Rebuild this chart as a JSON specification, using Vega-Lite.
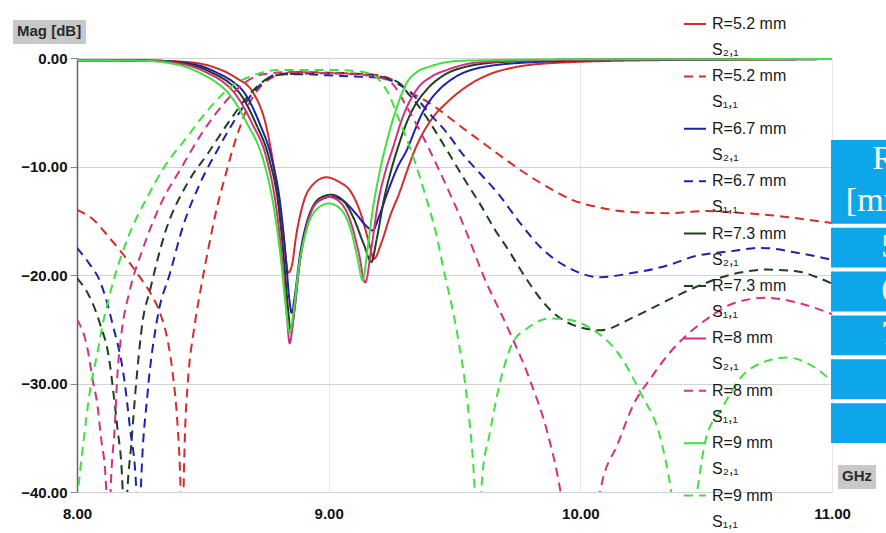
{
"$schema": "https://vega.github.io/schema/vega-lite/v6.json",
"width": 755, "height": 434,
"autosize": {"type": "none"},
"padding": {"left": 77, "top": 58, "right": 54, "bottom": 41},
"background": "white",
"config": {"view": {"stroke": null}, "font": "Liberation Sans"},
"datasets": {
"table": [{"cell":"R [mm]","span":2},{"cell":"5.2","span":1},{"cell":"6.7","span":1},{"cell":"7.3","span":1},{"cell":"8","span":1},{"cell":"9","span":1}],
"curves": [
{"curve":"R=5.2 mm|S₂,₁","freq":8.0,"mag":-0.2},{"curve":"R=5.2 mm|S₂,₁","freq":8.3,"mag":-0.25},{"curve":"R=5.2 mm|S₂,₁","freq":8.45,"mag":-0.4},{"curve":"R=5.2 mm|S₂,₁","freq":8.55,"mag":-0.9},{"curve":"R=5.2 mm|S₂,₁","freq":8.63,"mag":-1.8},{"curve":"R=5.2 mm|S₂,₁","freq":8.7,"mag":-3.2},{"curve":"R=5.2 mm|S₂,₁","freq":8.755,"mag":-6.6},{"curve":"R=5.2 mm|S₂,₁","freq":8.79,"mag":-11.2},{"curve":"R=5.2 mm|S₂,₁","freq":8.817,"mag":-15.6},{"curve":"R=5.2 mm|S₂,₁","freq":8.84,"mag":-19.8},{"curve":"R=5.2 mm|S₂,₁","freq":8.855,"mag":-19},{"curve":"R=5.2 mm|S₂,₁","freq":8.87,"mag":-16.5},{"curve":"R=5.2 mm|S₂,₁","freq":8.9,"mag":-13.3},{"curve":"R=5.2 mm|S₂,₁","freq":8.94,"mag":-11.6},{"curve":"R=5.2 mm|S₂,₁","freq":8.99,"mag":-11},{"curve":"R=5.2 mm|S₂,₁","freq":9.04,"mag":-11.4},{"curve":"R=5.2 mm|S₂,₁","freq":9.09,"mag":-12.4},{"curve":"R=5.2 mm|S₂,₁","freq":9.13,"mag":-14.5},{"curve":"R=5.2 mm|S₂,₁","freq":9.16,"mag":-17},{"curve":"R=5.2 mm|S₂,₁","freq":9.18,"mag":-18.5},{"curve":"R=5.2 mm|S₂,₁","freq":9.21,"mag":-17},{"curve":"R=5.2 mm|S₂,₁","freq":9.245,"mag":-14.5},{"curve":"R=5.2 mm|S₂,₁","freq":9.28,"mag":-12.5},{"curve":"R=5.2 mm|S₂,₁","freq":9.31,"mag":-10.5},{"curve":"R=5.2 mm|S₂,₁","freq":9.34,"mag":-8.6},{"curve":"R=5.2 mm|S₂,₁","freq":9.375,"mag":-6.9},{"curve":"R=5.2 mm|S₂,₁","freq":9.42,"mag":-5.3},{"curve":"R=5.2 mm|S₂,₁","freq":9.47,"mag":-4.1},{"curve":"R=5.2 mm|S₂,₁","freq":9.52,"mag":-3.1},{"curve":"R=5.2 mm|S₂,₁","freq":9.57,"mag":-2.3},{"curve":"R=5.2 mm|S₂,₁","freq":9.65,"mag":-1.4},{"curve":"R=5.2 mm|S₂,₁","freq":9.73,"mag":-0.9},{"curve":"R=5.2 mm|S₂,₁","freq":9.9,"mag":-0.45},{"curve":"R=5.2 mm|S₂,₁","freq":10.3,"mag":-0.2},{"curve":"R=5.2 mm|S₂,₁","freq":11.0,"mag":-0.1},
{"curve":"R=5.2 mm|S₁,₁","freq":8.0,"mag":-14.0},{"curve":"R=5.2 mm|S₁,₁","freq":8.06,"mag":-14.8},{"curve":"R=5.2 mm|S₁,₁","freq":8.13,"mag":-16.6},{"curve":"R=5.2 mm|S₁,₁","freq":8.2,"mag":-18.6},{"curve":"R=5.2 mm|S₁,₁","freq":8.25,"mag":-20.2},{"curve":"R=5.2 mm|S₁,₁","freq":8.3,"mag":-22},{"curve":"R=5.2 mm|S₁,₁","freq":8.33,"mag":-23.5},{"curve":"R=5.2 mm|S₁,₁","freq":8.36,"mag":-26},{"curve":"R=5.2 mm|S₁,₁","freq":8.38,"mag":-29},{"curve":"R=5.2 mm|S₁,₁","freq":8.4,"mag":-34},{"curve":"R=5.2 mm|S₁,₁","freq":8.41,"mag":-38.5},{"curve":"R=5.2 mm|S₁,₁","freq":8.418,"mag":-46},{"curve":"R=5.2 mm|S₁,₁","freq":8.425,"mag":-38},{"curve":"R=5.2 mm|S₁,₁","freq":8.43,"mag":-34},{"curve":"R=5.2 mm|S₁,₁","freq":8.44,"mag":-30},{"curve":"R=5.2 mm|S₁,₁","freq":8.465,"mag":-25},{"curve":"R=5.2 mm|S₁,₁","freq":8.49,"mag":-21.5},{"curve":"R=5.2 mm|S₁,₁","freq":8.52,"mag":-17.8},{"curve":"R=5.2 mm|S₁,₁","freq":8.557,"mag":-13.7},{"curve":"R=5.2 mm|S₁,₁","freq":8.59,"mag":-10.8},{"curve":"R=5.2 mm|S₁,₁","freq":8.62,"mag":-8.3},{"curve":"R=5.2 mm|S₁,₁","freq":8.65,"mag":-6.2},{"curve":"R=5.2 mm|S₁,₁","freq":8.68,"mag":-4.4},{"curve":"R=5.2 mm|S₁,₁","freq":8.72,"mag":-2.9},{"curve":"R=5.2 mm|S₁,₁","freq":8.76,"mag":-2.0},{"curve":"R=5.2 mm|S₁,₁","freq":8.81,"mag":-1.5},{"curve":"R=5.2 mm|S₁,₁","freq":8.87,"mag":-1.3},{"curve":"R=5.2 mm|S₁,₁","freq":9.0,"mag":-1.35},{"curve":"R=5.2 mm|S₁,₁","freq":9.1,"mag":-1.45},{"curve":"R=5.2 mm|S₁,₁","freq":9.2,"mag":-1.6},{"curve":"R=5.2 mm|S₁,₁","freq":9.27,"mag":-2.2},{"curve":"R=5.2 mm|S₁,₁","freq":9.33,"mag":-3.2},{"curve":"R=5.2 mm|S₁,₁","freq":9.39,"mag":-4.0},{"curve":"R=5.2 mm|S₁,₁","freq":9.44,"mag":-4.8},{"curve":"R=5.2 mm|S₁,₁","freq":9.53,"mag":-6.4},{"curve":"R=5.2 mm|S₁,₁","freq":9.6,"mag":-7.6},{"curve":"R=5.2 mm|S₁,₁","freq":9.67,"mag":-8.8},{"curve":"R=5.2 mm|S₁,₁","freq":9.76,"mag":-10.3},{"curve":"R=5.2 mm|S₁,₁","freq":9.87,"mag":-11.9},{"curve":"R=5.2 mm|S₁,₁","freq":9.97,"mag":-13.1},{"curve":"R=5.2 mm|S₁,₁","freq":10.08,"mag":-13.8},{"curve":"R=5.2 mm|S₁,₁","freq":10.2,"mag":-14.2},{"curve":"R=5.2 mm|S₁,₁","freq":10.35,"mag":-14.3},{"curve":"R=5.2 mm|S₁,₁","freq":10.5,"mag":-14.1},{"curve":"R=5.2 mm|S₁,₁","freq":10.65,"mag":-14.3},{"curve":"R=5.2 mm|S₁,₁","freq":10.8,"mag":-14.6},{"curve":"R=5.2 mm|S₁,₁","freq":10.9,"mag":-14.9},{"curve":"R=5.2 mm|S₁,₁","freq":11.0,"mag":-15.2},
{"curve":"R=6.7 mm|S₂,₁","freq":8.0,"mag":-0.2},{"curve":"R=6.7 mm|S₂,₁","freq":8.32,"mag":-0.25},{"curve":"R=6.7 mm|S₂,₁","freq":8.43,"mag":-0.45},{"curve":"R=6.7 mm|S₂,₁","freq":8.5,"mag":-0.8},{"curve":"R=6.7 mm|S₂,₁","freq":8.56,"mag":-1.4},{"curve":"R=6.7 mm|S₂,₁","freq":8.62,"mag":-2.2},{"curve":"R=6.7 mm|S₂,₁","freq":8.665,"mag":-3.2},{"curve":"R=6.7 mm|S₂,₁","freq":8.725,"mag":-6},{"curve":"R=6.7 mm|S₂,₁","freq":8.775,"mag":-9.4},{"curve":"R=6.7 mm|S₂,₁","freq":8.808,"mag":-13.5},{"curve":"R=6.7 mm|S₂,₁","freq":8.83,"mag":-18.5},{"curve":"R=6.7 mm|S₂,₁","freq":8.845,"mag":-22.5},{"curve":"R=6.7 mm|S₂,₁","freq":8.853,"mag":-23.5},{"curve":"R=6.7 mm|S₂,₁","freq":8.865,"mag":-22},{"curve":"R=6.7 mm|S₂,₁","freq":8.885,"mag":-18.3},{"curve":"R=6.7 mm|S₂,₁","freq":8.915,"mag":-15},{"curve":"R=6.7 mm|S₂,₁","freq":8.96,"mag":-13.2},{"curve":"R=6.7 mm|S₂,₁","freq":9.01,"mag":-12.8},{"curve":"R=6.7 mm|S₂,₁","freq":9.06,"mag":-13.2},{"curve":"R=6.7 mm|S₂,₁","freq":9.11,"mag":-14.4},{"curve":"R=6.7 mm|S₂,₁","freq":9.15,"mag":-15.5},{"curve":"R=6.7 mm|S₂,₁","freq":9.175,"mag":-15.9},{"curve":"R=6.7 mm|S₂,₁","freq":9.2,"mag":-14.6},{"curve":"R=6.7 mm|S₂,₁","freq":9.24,"mag":-12},{"curve":"R=6.7 mm|S₂,₁","freq":9.275,"mag":-10},{"curve":"R=6.7 mm|S₂,₁","freq":9.31,"mag":-8.5},{"curve":"R=6.7 mm|S₂,₁","freq":9.34,"mag":-6.8},{"curve":"R=6.7 mm|S₂,₁","freq":9.365,"mag":-5.4},{"curve":"R=6.7 mm|S₂,₁","freq":9.4,"mag":-4},{"curve":"R=6.7 mm|S₂,₁","freq":9.44,"mag":-2.9},{"curve":"R=6.7 mm|S₂,₁","freq":9.5,"mag":-1.8},{"curve":"R=6.7 mm|S₂,₁","freq":9.6,"mag":-0.9},{"curve":"R=6.7 mm|S₂,₁","freq":9.8,"mag":-0.4},{"curve":"R=6.7 mm|S₂,₁","freq":10.1,"mag":-0.2},{"curve":"R=6.7 mm|S₂,₁","freq":11.0,"mag":-0.1},
{"curve":"R=6.7 mm|S₁,₁","freq":8.0,"mag":-17.5},{"curve":"R=6.7 mm|S₁,₁","freq":8.05,"mag":-19},{"curve":"R=6.7 mm|S₁,₁","freq":8.09,"mag":-20.5},{"curve":"R=6.7 mm|S₁,₁","freq":8.14,"mag":-24.4},{"curve":"R=6.7 mm|S₁,₁","freq":8.19,"mag":-30},{"curve":"R=6.7 mm|S₁,₁","freq":8.21,"mag":-34},{"curve":"R=6.7 mm|S₁,₁","freq":8.235,"mag":-39.5},{"curve":"R=6.7 mm|S₁,₁","freq":8.245,"mag":-46},{"curve":"R=6.7 mm|S₁,₁","freq":8.255,"mag":-39},{"curve":"R=6.7 mm|S₁,₁","freq":8.28,"mag":-31},{"curve":"R=6.7 mm|S₁,₁","freq":8.32,"mag":-23.9},{"curve":"R=6.7 mm|S₁,₁","freq":8.37,"mag":-19.8},{"curve":"R=6.7 mm|S₁,₁","freq":8.42,"mag":-15.6},{"curve":"R=6.7 mm|S₁,₁","freq":8.49,"mag":-11.5},{"curve":"R=6.7 mm|S₁,₁","freq":8.56,"mag":-8.4},{"curve":"R=6.7 mm|S₁,₁","freq":8.63,"mag":-5.6},{"curve":"R=6.7 mm|S₁,₁","freq":8.71,"mag":-2.9},{"curve":"R=6.7 mm|S₁,₁","freq":8.8,"mag":-1.5},{"curve":"R=6.7 mm|S₁,₁","freq":8.9,"mag":-1.5},{"curve":"R=6.7 mm|S₁,₁","freq":9.0,"mag":-1.6},{"curve":"R=6.7 mm|S₁,₁","freq":9.1,"mag":-1.7},{"curve":"R=6.7 mm|S₁,₁","freq":9.2,"mag":-1.8},{"curve":"R=6.7 mm|S₁,₁","freq":9.26,"mag":-2.2},{"curve":"R=6.7 mm|S₁,₁","freq":9.31,"mag":-2.9},{"curve":"R=6.7 mm|S₁,₁","freq":9.36,"mag":-4},{"curve":"R=6.7 mm|S₁,₁","freq":9.4,"mag":-5.1},{"curve":"R=6.7 mm|S₁,₁","freq":9.47,"mag":-6.9},{"curve":"R=6.7 mm|S₁,₁","freq":9.53,"mag":-8.8},{"curve":"R=6.7 mm|S₁,₁","freq":9.6,"mag":-10.6},{"curve":"R=6.7 mm|S₁,₁","freq":9.67,"mag":-12.4},{"curve":"R=6.7 mm|S₁,₁","freq":9.76,"mag":-15.2},{"curve":"R=6.7 mm|S₁,₁","freq":9.84,"mag":-17.4},{"curve":"R=6.7 mm|S₁,₁","freq":9.95,"mag":-19.3},{"curve":"R=6.7 mm|S₁,₁","freq":10.08,"mag":-20.2},{"curve":"R=6.7 mm|S₁,₁","freq":10.21,"mag":-19.8},{"curve":"R=6.7 mm|S₁,₁","freq":10.35,"mag":-19.1},{"curve":"R=6.7 mm|S₁,₁","freq":10.45,"mag":-18.3},{"curve":"R=6.7 mm|S₁,₁","freq":10.6,"mag":-17.8},{"curve":"R=6.7 mm|S₁,₁","freq":10.72,"mag":-17.5},{"curve":"R=6.7 mm|S₁,₁","freq":10.85,"mag":-17.9},{"curve":"R=6.7 mm|S₁,₁","freq":11.0,"mag":-18.6},
{"curve":"R=7.3 mm|S₂,₁","freq":8.0,"mag":-0.2},{"curve":"R=7.3 mm|S₂,₁","freq":8.3,"mag":-0.25},{"curve":"R=7.3 mm|S₂,₁","freq":8.41,"mag":-0.45},{"curve":"R=7.3 mm|S₂,₁","freq":8.48,"mag":-0.8},{"curve":"R=7.3 mm|S₂,₁","freq":8.54,"mag":-1.4},{"curve":"R=7.3 mm|S₂,₁","freq":8.6,"mag":-2.2},{"curve":"R=7.3 mm|S₂,₁","freq":8.645,"mag":-3.2},{"curve":"R=7.3 mm|S₂,₁","freq":8.71,"mag":-6},{"curve":"R=7.3 mm|S₂,₁","freq":8.765,"mag":-9.4},{"curve":"R=7.3 mm|S₂,₁","freq":8.8,"mag":-13.5},{"curve":"R=7.3 mm|S₂,₁","freq":8.822,"mag":-18.5},{"curve":"R=7.3 mm|S₂,₁","freq":8.838,"mag":-23},{"curve":"R=7.3 mm|S₂,₁","freq":8.85,"mag":-25.3},{"curve":"R=7.3 mm|S₂,₁","freq":8.865,"mag":-23},{"curve":"R=7.3 mm|S₂,₁","freq":8.885,"mag":-18.8},{"curve":"R=7.3 mm|S₂,₁","freq":8.915,"mag":-15.2},{"curve":"R=7.3 mm|S₂,₁","freq":8.96,"mag":-13},{"curve":"R=7.3 mm|S₂,₁","freq":9.01,"mag":-12.6},{"curve":"R=7.3 mm|S₂,₁","freq":9.06,"mag":-13.2},{"curve":"R=7.3 mm|S₂,₁","freq":9.1,"mag":-14.8},{"curve":"R=7.3 mm|S₂,₁","freq":9.14,"mag":-17.2},{"curve":"R=7.3 mm|S₂,₁","freq":9.17,"mag":-18.8},{"curve":"R=7.3 mm|S₂,₁","freq":9.19,"mag":-16.8},{"curve":"R=7.3 mm|S₂,₁","freq":9.22,"mag":-13},{"curve":"R=7.3 mm|S₂,₁","freq":9.25,"mag":-10.2},{"curve":"R=7.3 mm|S₂,₁","freq":9.28,"mag":-7.9},{"curve":"R=7.3 mm|S₂,₁","freq":9.32,"mag":-5.4},{"curve":"R=7.3 mm|S₂,₁","freq":9.39,"mag":-2.9},{"curve":"R=7.3 mm|S₂,₁","freq":9.45,"mag":-1.7},{"curve":"R=7.3 mm|S₂,₁","freq":9.53,"mag":-0.9},{"curve":"R=7.3 mm|S₂,₁","freq":9.7,"mag":-0.35},{"curve":"R=7.3 mm|S₂,₁","freq":10.0,"mag":-0.15},{"curve":"R=7.3 mm|S₂,₁","freq":11.0,"mag":-0.1},
{"curve":"R=7.3 mm|S₁,₁","freq":8.0,"mag":-20.3},{"curve":"R=7.3 mm|S₁,₁","freq":8.05,"mag":-22},{"curve":"R=7.3 mm|S₁,₁","freq":8.09,"mag":-24.4},{"curve":"R=7.3 mm|S₁,₁","freq":8.13,"mag":-28.1},{"curve":"R=7.3 mm|S₁,₁","freq":8.145,"mag":-30.9},{"curve":"R=7.3 mm|S₁,₁","freq":8.16,"mag":-34},{"curve":"R=7.3 mm|S₁,₁","freq":8.18,"mag":-39},{"curve":"R=7.3 mm|S₁,₁","freq":8.19,"mag":-46},{"curve":"R=7.3 mm|S₁,₁","freq":8.2,"mag":-40},{"curve":"R=7.3 mm|S₁,₁","freq":8.215,"mag":-35.8},{"curve":"R=7.3 mm|S₁,₁","freq":8.235,"mag":-30},{"curve":"R=7.3 mm|S₁,₁","freq":8.26,"mag":-24.4},{"curve":"R=7.3 mm|S₁,₁","freq":8.29,"mag":-21.4},{"curve":"R=7.3 mm|S₁,₁","freq":8.35,"mag":-16.1},{"curve":"R=7.3 mm|S₁,₁","freq":8.44,"mag":-11.5},{"curve":"R=7.3 mm|S₁,₁","freq":8.52,"mag":-8.8},{"curve":"R=7.3 mm|S₁,₁","freq":8.6,"mag":-6},{"curve":"R=7.3 mm|S₁,₁","freq":8.68,"mag":-3.5},{"curve":"R=7.3 mm|S₁,₁","freq":8.75,"mag":-2},{"curve":"R=7.3 mm|S₁,₁","freq":8.82,"mag":-1.5},{"curve":"R=7.3 mm|S₁,₁","freq":9.0,"mag":-1.4},{"curve":"R=7.3 mm|S₁,₁","freq":9.15,"mag":-1.5},{"curve":"R=7.3 mm|S₁,₁","freq":9.22,"mag":-1.8},{"curve":"R=7.3 mm|S₁,₁","freq":9.28,"mag":-2.3},{"curve":"R=7.3 mm|S₁,₁","freq":9.32,"mag":-3.4},{"curve":"R=7.3 mm|S₁,₁","freq":9.36,"mag":-4.5},{"curve":"R=7.3 mm|S₁,₁","freq":9.42,"mag":-6.6},{"curve":"R=7.3 mm|S₁,₁","freq":9.47,"mag":-8.5},{"curve":"R=7.3 mm|S₁,₁","freq":9.54,"mag":-11.2},{"curve":"R=7.3 mm|S₁,₁","freq":9.6,"mag":-13.4},{"curve":"R=7.3 mm|S₁,₁","freq":9.66,"mag":-15.8},{"curve":"R=7.3 mm|S₁,₁","freq":9.72,"mag":-17.9},{"curve":"R=7.3 mm|S₁,₁","freq":9.77,"mag":-19.8},{"curve":"R=7.3 mm|S₁,₁","freq":9.88,"mag":-23.2},{"curve":"R=7.3 mm|S₁,₁","freq":9.97,"mag":-24.6},{"curve":"R=7.3 mm|S₁,₁","freq":10.08,"mag":-25.1},{"curve":"R=7.3 mm|S₁,₁","freq":10.21,"mag":-23.9},{"curve":"R=7.3 mm|S₁,₁","freq":10.35,"mag":-22.3},{"curve":"R=7.3 mm|S₁,₁","freq":10.45,"mag":-21.2},{"curve":"R=7.3 mm|S₁,₁","freq":10.61,"mag":-19.9},{"curve":"R=7.3 mm|S₁,₁","freq":10.74,"mag":-19.5},{"curve":"R=7.3 mm|S₁,₁","freq":10.87,"mag":-19.7},{"curve":"R=7.3 mm|S₁,₁","freq":10.95,"mag":-20.3},{"curve":"R=7.3 mm|S₁,₁","freq":11.0,"mag":-20.8},
{"curve":"R=8 mm|S₂,₁","freq":8.0,"mag":-0.2},{"curve":"R=8 mm|S₂,₁","freq":8.28,"mag":-0.25},{"curve":"R=8 mm|S₂,₁","freq":8.39,"mag":-0.45},{"curve":"R=8 mm|S₂,₁","freq":8.46,"mag":-0.8},{"curve":"R=8 mm|S₂,₁","freq":8.52,"mag":-1.4},{"curve":"R=8 mm|S₂,₁","freq":8.58,"mag":-2.2},{"curve":"R=8 mm|S₂,₁","freq":8.625,"mag":-3.2},{"curve":"R=8 mm|S₂,₁","freq":8.695,"mag":-6},{"curve":"R=8 mm|S₂,₁","freq":8.755,"mag":-9.4},{"curve":"R=8 mm|S₂,₁","freq":8.79,"mag":-13.5},{"curve":"R=8 mm|S₂,₁","freq":8.815,"mag":-18.5},{"curve":"R=8 mm|S₂,₁","freq":8.833,"mag":-23.5},{"curve":"R=8 mm|S₂,₁","freq":8.845,"mag":-26.3},{"curve":"R=8 mm|S₂,₁","freq":8.86,"mag":-24},{"curve":"R=8 mm|S₂,₁","freq":8.88,"mag":-19.8},{"curve":"R=8 mm|S₂,₁","freq":8.91,"mag":-15.8},{"curve":"R=8 mm|S₂,₁","freq":8.95,"mag":-13.4},{"curve":"R=8 mm|S₂,₁","freq":9.0,"mag":-12.8},{"curve":"R=8 mm|S₂,₁","freq":9.05,"mag":-13.4},{"curve":"R=8 mm|S₂,₁","freq":9.09,"mag":-15.3},{"curve":"R=8 mm|S₂,₁","freq":9.12,"mag":-18},{"curve":"R=8 mm|S₂,₁","freq":9.145,"mag":-20.7},{"curve":"R=8 mm|S₂,₁","freq":9.17,"mag":-17.5},{"curve":"R=8 mm|S₂,₁","freq":9.195,"mag":-13.5},{"curve":"R=8 mm|S₂,₁","freq":9.225,"mag":-10.5},{"curve":"R=8 mm|S₂,₁","freq":9.255,"mag":-8.3},{"curve":"R=8 mm|S₂,₁","freq":9.295,"mag":-5.4},{"curve":"R=8 mm|S₂,₁","freq":9.35,"mag":-2.9},{"curve":"R=8 mm|S₂,₁","freq":9.41,"mag":-1.7},{"curve":"R=8 mm|S₂,₁","freq":9.47,"mag":-1.1},{"curve":"R=8 mm|S₂,₁","freq":9.6,"mag":-0.4},{"curve":"R=8 mm|S₂,₁","freq":10.0,"mag":-0.15},{"curve":"R=8 mm|S₂,₁","freq":11.0,"mag":-0.1},
{"curve":"R=8 mm|S₁,₁","freq":8.0,"mag":-24.1},{"curve":"R=8 mm|S₁,₁","freq":8.04,"mag":-26.6},{"curve":"R=8 mm|S₁,₁","freq":8.065,"mag":-30},{"curve":"R=8 mm|S₁,₁","freq":8.08,"mag":-31.8},{"curve":"R=8 mm|S₁,₁","freq":8.095,"mag":-34.9},{"curve":"R=8 mm|S₁,₁","freq":8.115,"mag":-39.2},{"curve":"R=8 mm|S₁,₁","freq":8.125,"mag":-46},{"curve":"R=8 mm|S₁,₁","freq":8.135,"mag":-39},{"curve":"R=8 mm|S₁,₁","freq":8.15,"mag":-34},{"curve":"R=8 mm|S₁,₁","freq":8.16,"mag":-29.4},{"curve":"R=8 mm|S₁,₁","freq":8.175,"mag":-25.7},{"curve":"R=8 mm|S₁,₁","freq":8.21,"mag":-21.4},{"curve":"R=8 mm|S₁,₁","freq":8.26,"mag":-17.7},{"curve":"R=8 mm|S₁,₁","freq":8.34,"mag":-13.1},{"curve":"R=8 mm|S₁,₁","freq":8.41,"mag":-10.3},{"curve":"R=8 mm|S₁,₁","freq":8.5,"mag":-6.8},{"curve":"R=8 mm|S₁,₁","freq":8.58,"mag":-4.3},{"curve":"R=8 mm|S₁,₁","freq":8.66,"mag":-2.4},{"curve":"R=8 mm|S₁,₁","freq":8.74,"mag":-1.5},{"curve":"R=8 mm|S₁,₁","freq":8.85,"mag":-1.3},{"curve":"R=8 mm|S₁,₁","freq":9.0,"mag":-1.4},{"curve":"R=8 mm|S₁,₁","freq":9.1,"mag":-1.5},{"curve":"R=8 mm|S₁,₁","freq":9.2,"mag":-1.8},{"curve":"R=8 mm|S₁,₁","freq":9.25,"mag":-2.3},{"curve":"R=8 mm|S₁,₁","freq":9.31,"mag":-4.5},{"curve":"R=8 mm|S₁,₁","freq":9.36,"mag":-6.6},{"curve":"R=8 mm|S₁,₁","freq":9.42,"mag":-9.4},{"curve":"R=8 mm|S₁,₁","freq":9.47,"mag":-11.9},{"curve":"R=8 mm|S₁,₁","freq":9.52,"mag":-14.5},{"curve":"R=8 mm|S₁,₁","freq":9.56,"mag":-16.8},{"curve":"R=8 mm|S₁,₁","freq":9.61,"mag":-19.8},{"curve":"R=8 mm|S₁,₁","freq":9.71,"mag":-24.8},{"curve":"R=8 mm|S₁,₁","freq":9.8,"mag":-29.7},{"curve":"R=8 mm|S₁,₁","freq":9.87,"mag":-34.6},{"curve":"R=8 mm|S₁,₁","freq":9.92,"mag":-39.8},{"curve":"R=8 mm|S₁,₁","freq":10.0,"mag":-55},{"curve":"R=8 mm|S₁,₁","freq":10.08,"mag":-39.8},{"curve":"R=8 mm|S₁,₁","freq":10.15,"mag":-35.5},{"curve":"R=8 mm|S₁,₁","freq":10.21,"mag":-32},{"curve":"R=8 mm|S₁,₁","freq":10.28,"mag":-29.5},{"curve":"R=8 mm|S₁,₁","freq":10.35,"mag":-27.3},{"curve":"R=8 mm|S₁,₁","freq":10.42,"mag":-25.6},{"curve":"R=8 mm|S₁,₁","freq":10.5,"mag":-24.1},{"curve":"R=8 mm|S₁,₁","freq":10.61,"mag":-22.6},{"curve":"R=8 mm|S₁,₁","freq":10.74,"mag":-22.1},{"curve":"R=8 mm|S₁,₁","freq":10.87,"mag":-22.6},{"curve":"R=8 mm|S₁,₁","freq":11.0,"mag":-23.6},
{"curve":"R=9 mm|S₂,₁","freq":8.0,"mag":-0.2},{"curve":"R=9 mm|S₂,₁","freq":8.25,"mag":-0.25},{"curve":"R=9 mm|S₂,₁","freq":8.36,"mag":-0.45},{"curve":"R=9 mm|S₂,₁","freq":8.43,"mag":-0.8},{"curve":"R=9 mm|S₂,₁","freq":8.49,"mag":-1.4},{"curve":"R=9 mm|S₂,₁","freq":8.55,"mag":-2.2},{"curve":"R=9 mm|S₂,₁","freq":8.6,"mag":-3.2},{"curve":"R=9 mm|S₂,₁","freq":8.675,"mag":-6},{"curve":"R=9 mm|S₂,₁","freq":8.74,"mag":-9.4},{"curve":"R=9 mm|S₂,₁","freq":8.78,"mag":-13.5},{"curve":"R=9 mm|S₂,₁","freq":8.81,"mag":-18.5},{"curve":"R=9 mm|S₂,₁","freq":8.83,"mag":-23},{"curve":"R=9 mm|S₂,₁","freq":8.845,"mag":-25.3},{"curve":"R=9 mm|S₂,₁","freq":8.86,"mag":-23.5},{"curve":"R=9 mm|S₂,₁","freq":8.88,"mag":-19.5},{"curve":"R=9 mm|S₂,₁","freq":8.91,"mag":-16},{"curve":"R=9 mm|S₂,₁","freq":8.95,"mag":-14},{"curve":"R=9 mm|S₂,₁","freq":9.0,"mag":-13.4},{"curve":"R=9 mm|S₂,₁","freq":9.05,"mag":-14},{"curve":"R=9 mm|S₂,₁","freq":9.09,"mag":-16},{"curve":"R=9 mm|S₂,₁","freq":9.115,"mag":-18.5},{"curve":"R=9 mm|S₂,₁","freq":9.135,"mag":-20.5},{"curve":"R=9 mm|S₂,₁","freq":9.155,"mag":-17.5},{"curve":"R=9 mm|S₂,₁","freq":9.175,"mag":-14},{"curve":"R=9 mm|S₂,₁","freq":9.2,"mag":-10.8},{"curve":"R=9 mm|S₂,₁","freq":9.23,"mag":-7.8},{"curve":"R=9 mm|S₂,₁","freq":9.27,"mag":-4.6},{"curve":"R=9 mm|S₂,₁","freq":9.31,"mag":-2.3},{"curve":"R=9 mm|S₂,₁","freq":9.35,"mag":-1.3},{"curve":"R=9 mm|S₂,₁","freq":9.4,"mag":-0.8},{"curve":"R=9 mm|S₂,₁","freq":9.53,"mag":-0.25},{"curve":"R=9 mm|S₂,₁","freq":10.0,"mag":-0.12},{"curve":"R=9 mm|S₂,₁","freq":11.0,"mag":-0.1},
{"curve":"R=9 mm|S₁,₁","freq":8.0,"mag":-40.8},{"curve":"R=9 mm|S₁,₁","freq":8.025,"mag":-35.5},{"curve":"R=9 mm|S₁,₁","freq":8.052,"mag":-30.6},{"curve":"R=9 mm|S₁,₁","freq":8.08,"mag":-27.3},{"curve":"R=9 mm|S₁,₁","freq":8.1,"mag":-24.8},{"curve":"R=9 mm|S₁,₁","freq":8.143,"mag":-20.7},{"curve":"R=9 mm|S₁,₁","freq":8.2,"mag":-16.7},{"curve":"R=9 mm|S₁,₁","freq":8.28,"mag":-12.8},{"curve":"R=9 mm|S₁,₁","freq":8.34,"mag":-10.3},{"curve":"R=9 mm|S₁,₁","freq":8.44,"mag":-7.2},{"curve":"R=9 mm|S₁,₁","freq":8.52,"mag":-4.8},{"curve":"R=9 mm|S₁,₁","freq":8.61,"mag":-2.7},{"curve":"R=9 mm|S₁,₁","freq":8.7,"mag":-1.6},{"curve":"R=9 mm|S₁,₁","freq":8.8,"mag":-1.1},{"curve":"R=9 mm|S₁,₁","freq":9.0,"mag":-1.1},{"curve":"R=9 mm|S₁,₁","freq":9.1,"mag":-1.2},{"curve":"R=9 mm|S₁,₁","freq":9.17,"mag":-1.5},{"curve":"R=9 mm|S₁,₁","freq":9.2,"mag":-2.0},{"curve":"R=9 mm|S₁,₁","freq":9.24,"mag":-3.4},{"curve":"R=9 mm|S₁,₁","freq":9.27,"mag":-5.1},{"curve":"R=9 mm|S₁,₁","freq":9.34,"mag":-9.4},{"curve":"R=9 mm|S₁,₁","freq":9.39,"mag":-13.1},{"curve":"R=9 mm|S₁,₁","freq":9.43,"mag":-16.5},{"curve":"R=9 mm|S₁,₁","freq":9.455,"mag":-19.3},{"curve":"R=9 mm|S₁,₁","freq":9.51,"mag":-25.3},{"curve":"R=9 mm|S₁,₁","freq":9.55,"mag":-31.5},{"curve":"R=9 mm|S₁,₁","freq":9.575,"mag":-37.6},{"curve":"R=9 mm|S₁,₁","freq":9.595,"mag":-46},{"curve":"R=9 mm|S₁,₁","freq":9.61,"mag":-38.6},{"curve":"R=9 mm|S₁,₁","freq":9.64,"mag":-34.6},{"curve":"R=9 mm|S₁,₁","freq":9.68,"mag":-30},{"curve":"R=9 mm|S₁,₁","freq":9.73,"mag":-26.3},{"curve":"R=9 mm|S₁,₁","freq":9.79,"mag":-24.9},{"curve":"R=9 mm|S₁,₁","freq":9.88,"mag":-24},{"curve":"R=9 mm|S₁,₁","freq":9.95,"mag":-24.1},{"curve":"R=9 mm|S₁,₁","freq":10.04,"mag":-24.9},{"curve":"R=9 mm|S₁,₁","freq":10.15,"mag":-27.2},{"curve":"R=9 mm|S₁,₁","freq":10.24,"mag":-30.9},{"curve":"R=9 mm|S₁,₁","freq":10.32,"mag":-35.2},{"curve":"R=9 mm|S₁,₁","freq":10.36,"mag":-39.8},{"curve":"R=9 mm|S₁,₁","freq":10.41,"mag":-50},{"curve":"R=9 mm|S₁,₁","freq":10.47,"mag":-39},{"curve":"R=9 mm|S₁,₁","freq":10.5,"mag":-35},{"curve":"R=9 mm|S₁,₁","freq":10.56,"mag":-32.4},{"curve":"R=9 mm|S₁,₁","freq":10.64,"mag":-29.4},{"curve":"R=9 mm|S₁,₁","freq":10.72,"mag":-28.1},{"curve":"R=9 mm|S₁,₁","freq":10.82,"mag":-27.6},{"curve":"R=9 mm|S₁,₁","freq":10.93,"mag":-28.5},{"curve":"R=9 mm|S₁,₁","freq":11.0,"mag":-29.8}
]
},
"resolve": {"scale": {"y": "independent", "shape": "independent"}, "legend": {"shape": "independent"}},
"layer": [
{
"data": {"name": "curves"},
"mark": {"type": "line", "clip": true, "strokeWidth": 2, "interpolate": "monotone"},
"encoding": {
"x": {"field": "freq", "type": "quantitative", "scale": {"domain": [8, 11], "nice": false, "zero": false},
"axis": {"values": [8, 9, 10, 11], "format": ".2f", "title": null, "grid": true, "gridColor": "#e6e6e6", "domain": false, "ticks": false, "labelPadding": 14, "labelFontSize": 15, "labelFontWeight": "bold", "labelColor": "#111111", "labelFlush": false, "labelOverlap": false}},
"y": {"field": "mag", "type": "quantitative", "scale": {"domain": [-40, 0], "nice": false, "zero": false},
"axis": {"values": [0, -10, -20, -30, -40], "format": ".2f", "title": null, "grid": true, "gridColor": "#d2d2d2", "domainColor": "#666666", "domainWidth": 1.5, "tickColor": "#888888", "tickSize": 7, "labelPadding": 3, "labelFontSize": 15, "labelFontWeight": "bold", "labelColor": "#111111", "labelFlush": false}},
"color": {"field": "curve", "type": "nominal",
"scale": {"domain": ["R=5.2 mm|S₂,₁","R=5.2 mm|S₁,₁","R=6.7 mm|S₂,₁","R=6.7 mm|S₁,₁","R=7.3 mm|S₂,₁","R=7.3 mm|S₁,₁","R=8 mm|S₂,₁","R=8 mm|S₁,₁","R=9 mm|S₂,₁","R=9 mm|S₁,₁"],
"range": ["#d42b2b","#d42b2b","#2020b0","#2020b0","#1f3f1f","#1f3f1f","#d4307f","#d4307f","#3fe03f","#3fe03f"]},
"legend": {"orient": "none", "legendX": 606, "legendY": -46, "title": null, "padding": 0, "symbolType": "stroke", "symbolSize": 484, "symbolStrokeWidth": 2, "labelFontSize": 16, "labelColor": "#1a1a1a", "labelOffset": 5, "labelLimit": 200, "rowPadding": 6.4, "labelExpr": "split(datum.label, '|')",
"encode": {"symbols": {"update": {"strokeDash": [{"test": "indexof(datum.value, '₁,₁') >= 0", "value": [5, 3]}, {"value": [1, 0]}]}}, "labels": {"update": {"lineHeight": {"value": 26}}}}}},
"strokeDash": {"field": "curve", "type": "nominal",
"scale": {"domain": ["R=5.2 mm|S₂,₁","R=5.2 mm|S₁,₁","R=6.7 mm|S₂,₁","R=6.7 mm|S₁,₁","R=7.3 mm|S₂,₁","R=7.3 mm|S₁,₁","R=8 mm|S₂,₁","R=8 mm|S₁,₁","R=9 mm|S₂,₁","R=9 mm|S₁,₁"],
"range": [[1,0],[9,6],[1,0],[9,6],[1,0],[9,6],[1,0],[9,6],[1,0],[9,6]]},
"legend": null}
}
},
{
"data": {"values": [{"axisLabel": "Mag [dB]"}]},
"mark": {"type": "point", "opacity": 0},
"encoding": {"shape": {"field": "axisLabel", "type": "nominal", "legend": {"orient": "none", "legendX": -64, "legendY": -38, "title": "Mag [dB]", "titleFontWeight": "bold", "titleFontSize": 15, "titleColor": "#2a2a2a", "titlePadding": 0, "titleLimit": 200, "fillColor": "#c8c8c8", "padding": 4, "labelExpr": "''", "labelFontSize": 1, "symbolSize": 0, "symbolOpacity": 0, "symbolStrokeWidth": 0, "labelOffset": 0, "rowPadding": 0}}}
},
{
"data": {"values": [{"unit": "GHz"}]},
"mark": {"type": "point", "opacity": 0},
"encoding": {"shape": {"field": "unit", "type": "nominal", "legend": {"orient": "none", "legendX": 761, "legendY": 407, "title": "GHz", "titleFontWeight": "bold", "titleFontSize": 15, "titleColor": "#2a2a2a", "titlePadding": 0, "titleLimit": 200, "fillColor": "#c8c8c8", "padding": 4, "labelExpr": "''", "labelFontSize": 1, "symbolSize": 0, "symbolOpacity": 0, "symbolStrokeWidth": 0, "labelOffset": 0, "rowPadding": 0}}}
},
{
"data": {"name": "table"},
"transform": [
{"window": [{"op": "sum", "field": "span", "as": "rowEnd"}], "frame": [null, 0]},
{"window": [{"op": "sum", "field": "span", "as": "rowStart"}], "frame": [null, -1]}
],
"layer": [
{"mark": {"type": "rect", "color": "#0ea6ea", "y2Offset": -4, "invalid": "show"},
"encoding": {"x": {"datum": 10.996, "type": "quantitative", "scale": {"domain": [8, 11]}}, "x2": {"datum": 11.6}, "y": {"field": "rowStart", "type": "quantitative", "scale": {"domain": [0, 7], "range": [82, 389]}, "axis": null}, "y2": {"field": "rowEnd"}}},
{"transform": [{"filter": "datum.span > 1"}],
"mark": {"type": "text", "color": "white", "font": "Liberation Serif", "fontSize": 34, "baseline": "top", "align": "center", "dy": 2, "lineBreak": " ", "lineHeight": 42, "invalid": "show"},
"encoding": {"x": {"datum": 11.205, "type": "quantitative"}, "y": {"field": "rowStart", "type": "quantitative", "scale": {"domain": [0, 7], "range": [82, 389]}, "axis": null}, "text": {"field": "cell"}}},
{"transform": [{"filter": "datum.span == 1"}],
"mark": {"type": "text", "color": "white", "font": "Liberation Serif", "fontSize": 34, "baseline": "top", "align": "center", "dy": 2, "invalid": "show"},
"encoding": {"x": {"datum": 11.28, "type": "quantitative"}, "y": {"field": "rowStart", "type": "quantitative", "scale": {"domain": [0, 7], "range": [82, 389]}, "axis": null}, "text": {"field": "cell"}}}
]
}
]
}
